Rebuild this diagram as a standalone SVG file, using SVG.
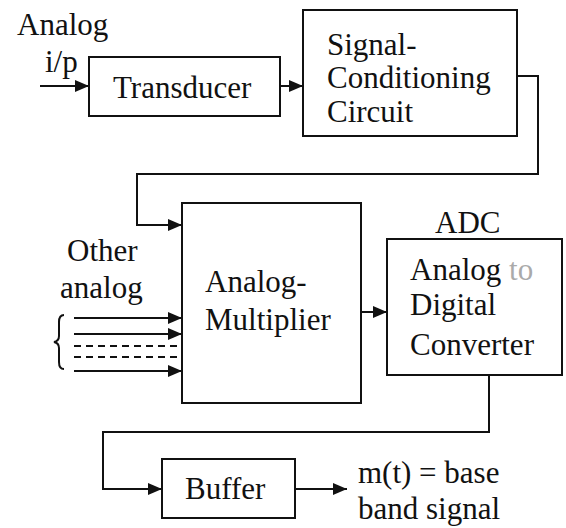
<svg xmlns="http://www.w3.org/2000/svg" width="566" height="528" viewBox="0 0 566 528">
<defs>
<style>
.box{fill:#fff;stroke:#111;stroke-width:2}
.ln{fill:none;stroke:#111;stroke-width:2}
.dash{fill:none;stroke:#111;stroke-width:2;stroke-dasharray:7 5}
text{font-family:'Liberation Serif','DejaVu Serif',serif;font-size:31px;fill:#111}
</style>
<marker id="ah" markerWidth="14" markerHeight="12" refX="14" refY="6" orient="auto" markerUnits="userSpaceOnUse">
<path d="M0,0 L14,6 L0,12 Z" fill="#111"/>
</marker>
</defs>
<rect width="566" height="528" fill="#fff"/>
<g id="connectors">
<path class="ln" d="M40,86 L89,86" marker-end="url(#ah)"/>
<path class="ln" d="M280,86 L303,86" marker-end="url(#ah)"/>
<path class="ln" d="M517,76 L538,76 L538,174 L137,174 L137,225 L182,225" marker-end="url(#ah)"/>
<path class="ln" d="M74,318 L182,318" marker-end="url(#ah)"/>
<path class="ln" d="M74,334 L182,334" marker-end="url(#ah)"/>
<path class="dash" d="M74,346 L182,346"/>
<path class="dash" d="M74,357 L182,357"/>
<path class="ln" d="M74,371 L182,371" marker-end="url(#ah)"/>
<path class="ln" d="M64,315 Q59,315 59,322 L59,336 Q59,341 54,342 Q59,343 59,348 L59,362 Q59,369 64,369"/>
<path class="ln" d="M361,312 L387,312" marker-end="url(#ah)"/>
<path class="ln" d="M489,375 L489,432 L103,432 L103,489 L162,489" marker-end="url(#ah)"/>
<path class="ln" d="M295,489 L347,489" marker-end="url(#ah)"/>
</g>
<g id="labels" font-family="Liberation Serif, DejaVu Serif, serif">
<text x="17" y="35">Analog</text>
<text x="45" y="72">i/p</text>
<text x="67" y="261">Other</text>
<text x="60" y="298">analog</text>
<text x="358" y="483">m(t) = base</text>
<text x="358" y="519">band signal</text>
</g>
<g id="transducer">
<rect class="box" x="89" y="57" width="191" height="59"/>
<text x="113" y="98">Transducer</text>
</g>
<g id="signal-conditioning">
<rect class="box" x="303" y="10" width="214" height="126"/>
<text x="327" y="55">Signal-</text>
<text x="327" y="88">Conditioning</text>
<text x="327" y="122">Circuit</text>
</g>
<g id="multiplier">
<rect class="box" x="182" y="203" width="179" height="200"/>
<text x="205" y="292">Analog-</text>
<text x="205" y="330">Multiplier</text>
</g>
<g id="adc">
<text x="435" y="233">ADC</text>
<rect class="box" x="387" y="239" width="175" height="136"/>
<text x="410" y="280">Analog <tspan fill="#aaa">to</tspan></text>
<text x="410" y="315">Digital</text>
<text x="410" y="355">Converter</text>
</g>
<g id="buffer">
<rect class="box" x="162" y="459" width="133" height="59"/>
<text x="185" y="499">Buffer</text>
</g>
</svg>
